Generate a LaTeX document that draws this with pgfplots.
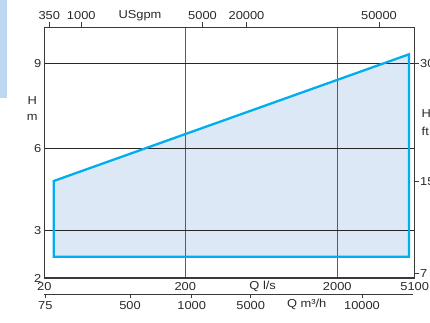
\documentclass[border=0pt]{standalone}
\usepackage{pgfplots}
\pgfplotsset{compat=1.18}
\usepackage{fontspec}
\setmainfont[FakeStretch=1.12]{Liberation Sans}
\definecolor{fillblue}{HTML}{DDE8F6}
\definecolor{cyanline}{HTML}{00AEEF}
\definecolor{panel}{HTML}{BDD7F0}
\definecolor{txt}{HTML}{2A2A2A}
\definecolor{axl}{HTML}{3A3A3A}
\definecolor{vgrid}{HTML}{5C5C5C}
% The printed scales are not uniform, so positions along each axis are given
% in scale units (pt from the lower left corner); tick labels carry the values.
% Q l/s: 20 -> 0, 200 -> 141, 2000 -> 293, 5100 -> 370.4
% H m:   2 -> 0, 3 -> 47.3, 6 -> 129.7, 9 -> 214.7
\pgfplotstableread{
x y
9.4 21.3
9.4 97.0
364.7 223.7
364.7 21.3
}\envelope
\begin{document}
\begin{tikzpicture}[font=\fontsize{11.5}{13}\selectfont, text=txt]
\fill[panel] (0pt,0pt) rectangle (6.7pt,-98.3pt);
% main axis
\begin{axis}[
  set layers,
  at={(44.3pt,-278pt)}, anchor=south west,
  scale only axis, width=370.4pt, height=250.7pt,
  xmin=0, xmax=370.4, ymin=0, ymax=250.7,
  xtick={0,141,293,370.4}, xticklabels={20,200,2000,5100},
  ytick={0,47.3,129.7,214.7}, yticklabels={2,3,6,9},
  major tick length=0pt,
  grid=major,
  x grid style={vgrid, line width=1.3pt},
  y grid style={black!85, line width=1.1pt},
  axis line style={axl, line width=1.2pt},
  tick label style={font=\fontsize{11.5}{13}\selectfont, text=txt},
  xticklabel style={yshift=-0.5pt},
  yticklabel style={xshift=0.5pt},
]
\addplot[fill=fillblue, draw=none, on layer=axis background] table[x=x,y=y] {\envelope} -- cycle;
\addplot[draw=cyanline, line width=2.3pt, line join=miter, mark=none] table[x=x,y=y] {\envelope} -- cycle;
\end{axis}
% top USgpm axis
\begin{axis}[
  at={(44.3pt,-278pt)}, anchor=south west,
  scale only axis, width=370.4pt, height=250.7pt,
  xmin=0, xmax=370.4, ymin=0, ymax=1,
  axis x line*=top, hide y axis,
  axis line style={axl, line width=1.2pt, -},
  xtick={5,37,158.2,202.2,334.7}, xticklabels={350,1000,5000,20000,50000},
  tick align=outside, major tick length=5pt,
  tick style={axl, line width=1pt},
  tick label style={font=\fontsize{11.5}{13}\selectfont, text=txt},
  xticklabel style={yshift=-1pt},
]
\end{axis}
% bottom m3/h axis
\begin{axis}[
  at={(44.3pt,-294.3pt)}, anchor=south west,
  scale only axis, width=369pt, height=10pt,
  xmin=0, xmax=369, ymin=0, ymax=1,
  axis x line*=bottom, hide y axis,
  axis line style={axl, line width=1.2pt, -},
  xtick={1,85.7,147.4,206.4,317.7}, xticklabels={75,500,1000,5000,10000},
  tick align=outside, major tick length=4pt,
  tick style={axl, line width=1pt},
  tick label style={font=\fontsize{11.5}{13}\selectfont, text=txt},
]
\end{axis}
% right ft axis
\begin{axis}[
  at={(44.3pt,-278pt)}, anchor=south west,
  scale only axis, width=370.4pt, height=250.7pt,
  xmin=0, xmax=1, ymin=0, ymax=250.7,
  axis y line*=right, hide x axis,
  axis line style={axl, line width=1.2pt, -},
  ytick={4.7,96.3,214.7}, yticklabels={7,15,30},
  tick align=outside, major tick length=4.5pt,
  tick style={axl, line width=1pt},
  tick label style={font=\fontsize{11.5}{13}\selectfont, text=txt},
  yticklabel style={xshift=-2.5pt},
]
\end{axis}
\node at (140pt,-16pt) {USgpm};
\node at (262.7pt,-286.7pt) {Q l/s};
\node at (306.7pt,-304.3pt) {Q m³/h};
\node at (32.3pt,-100.7pt) {H};
\node at (32.3pt,-117.3pt) {m};
\node[anchor=west, inner sep=0pt] at (421.5pt,-113.3pt) {H};
\node[anchor=west, inner sep=0pt] at (421.5pt,-131.7pt) {ft};
\pgfresetboundingbox
\path[use as bounding box] (0pt,0pt) rectangle (430pt,-322pt);
\end{tikzpicture}
\end{document}
